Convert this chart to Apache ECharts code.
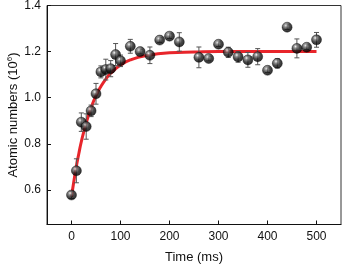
<!DOCTYPE html>
<html>
<head>
<meta charset="utf-8">
<script src="https://cdn.jsdelivr.net/npm/echarts@6/dist/echarts.min.js"></script>
<style>html,body{margin:0;padding:0;background:#fff;}#c{width:342px;height:267px;}</style>
</head>
<body>
<div id="c"></div>
<script>
var times = [0,10,20,30,40,50,60,70,80,90,100,120,140,160,180,200,220,260,280,300,320,340,360,380,400,420,440,460,480,500];
var values = [0.578,0.683,0.894,0.875,0.943,1.017,1.112,1.122,1.126,1.187,1.160,1.223,1.200,1.184,1.250,1.267,1.242,1.175,1.170,1.232,1.197,1.177,1.164,1.178,1.119,1.149,1.306,1.214,1.219,1.251];
var errors = [0.015,0.052,0.04,0.055,0.025,0.045,0.026,0.045,0.035,0.048,0.025,0.03,0.01,0.036,0.01,0.01,0.04,0.045,0.01,0.01,0.022,0.023,0.032,0.035,0.01,0.02,0.01,0.041,0.01,0.032];
var fitT = [0,5,10,15,20,30,40,50,60,70,80,100,120,150,200,250,300,400,500];
var fitV = [0.570,0.640,0.704,0.758,0.809,0.891,0.957,1.009,1.049,1.081,1.106,1.142,1.164,1.182,1.195,1.198,1.200,1.200,1.200];
var xTicks = [0,100,200,300,400,500];
var yTicks = [0.6,0.8,1.0,1.2,1.4];

var pts = times.map(function(t,i){return [t, values[i]];});
var errData = times.map(function(t,i){return [t, values[i]-errors[i], values[i]+errors[i]];});
var fitData = fitT.map(function(t,i){return [t, fitV[i]];});

var chart = echarts.init(document.getElementById('c'));
var font = 'Liberation Sans, Arial, sans-serif';
chart.setOption({
  animation: false,
  grid: {left: 47, right: 1, top: 5.5, bottom: 42.5, containLabel: false, outerBoundsMode: 'none',
    show: true, borderColor: '#333', borderWidth: 1},
  xAxis: {
    type: 'value', min: -50, max: 550,
    name: 'Time (ms)', nameLocation: 'middle', nameGap: 26, nameMoveOverlap: false,
    nameTextStyle: {fontFamily: font, fontSize: 13, color: '#111'},
    axisLine: {show: true, onZero: false, lineStyle: {color: '#111', width: 1}},
    axisTick: {show: true, inside: true, length: 4, customValues: xTicks, lineStyle: {color: '#111'}},
    axisLabel: {customValues: xTicks, fontFamily: font, fontSize: 12, color: '#111', margin: 6},
    splitLine: {show: false}
  },
  yAxis: {
    type: 'value', min: 0.45, max: 1.4,
    name: '{a|Atomic numbers (10}{s|6}{a|)}', nameLocation: 'middle', nameGap: 27, nameMoveOverlap: false,
    nameTextStyle: {fontFamily: font, fontSize: 13, color: '#111',
      rich: {a: {fontFamily: font, fontSize: 13, color: '#111'}, s: {fontFamily: font, fontSize: 8, color: '#111', padding: [0,0,6,0]}}},
    axisLine: {show: true, onZero: false, lineStyle: {color: '#111', width: 1}},
    axisTick: {show: true, inside: true, length: 4, customValues: yTicks, lineStyle: {color: '#111'}},
    axisLabel: {customValues: yTicks, fontFamily: font, fontSize: 12, color: '#111', margin: 6,
      formatter: function(v){return v.toFixed(1);}},
    splitLine: {show: false}
  },
  series: [
    {
      type: 'line', data: fitData, smooth: true, showSymbol: false, z: 2,
      lineStyle: {color: '#e8252b', width: 3}
    },
    {
      type: 'custom', z: 3, data: errData,
      renderItem: function(params, api){
        var x = api.value(0), lo = api.value(1), hi = api.value(2);
        var p1 = api.coord([x, hi]), p2 = api.coord([x, lo]);
        var w = 2.5;
        var st = {stroke: '#555', lineWidth: 1, fill: null};
        return {type: 'group', children: [
          {type: 'line', shape: {x1: p1[0], y1: p1[1], x2: p2[0], y2: p2[1]}, style: st},
          {type: 'line', shape: {x1: p1[0]-w, y1: p1[1], x2: p1[0]+w, y2: p1[1]}, style: st},
          {type: 'line', shape: {x1: p2[0]-w, y1: p2[1], x2: p2[0]+w, y2: p2[1]}, style: st}
        ]};
      }
    },
    {
      type: 'scatter', data: pts, symbolSize: 10, z: 4,
      itemStyle: {
        color: new echarts.graphic.RadialGradient(0.38, 0.32, 0.65, [
          {offset: 0, color: '#f4f4f4'},
          {offset: 0.25, color: '#777'},
          {offset: 0.6, color: '#1a1a1a'},
          {offset: 1, color: '#000'}
        ]),
        borderColor: '#000', borderWidth: 0.5
      }
    }
  ]
});
</script>
</body>
</html>
